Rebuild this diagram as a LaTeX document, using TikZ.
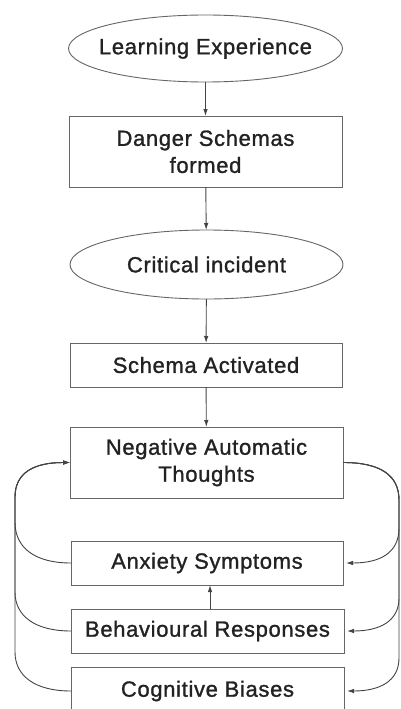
\documentclass[tikz,border=0pt]{standalone}
\usepackage{fontspec}
\setmainfont[LetterSpace=3,FakeBold=1.2]{Liberation Sans}
\usetikzlibrary{shapes.geometric,arrows.meta}
\definecolor{inkline}{HTML}{444444}
\definecolor{boxline}{HTML}{666666}
\definecolor{inktext}{HTML}{222222}
\begin{document}
\begin{tikzpicture}[x=1pt,y=-1pt,
  every node/.style={text=inktext,font=\fontsize{22}{27}\selectfont,align=center,inner sep=0pt,outer sep=0pt},
  oval/.style={ellipse,draw=boxline,line width=0.9pt,minimum width=274pt,minimum height=67pt},
  stepbox/.style={rectangle,draw=boxline,line width=0.9pt,minimum width=273pt},
  flow/.style={draw=inkline,line width=0.9pt,-{Latex[length=7pt,width=4.5pt]}},
  fb/.style={draw=inkline,line width=0.9pt,-{Latex[length=7pt,width=4.5pt]}}
]
\clip (0,0) rectangle (401,709);
\fill[white] (0,0) rectangle (401,709);

% main chain (oval captions sit in centred labels so the outline keeps its set size)
\node[oval,label={center:Learning Experience}] (le) at (205.5,48.5) {};
\node[stepbox,minimum height=71pt] (ds) at (205.5,151.5) {Danger Schemas\\formed};
\node[oval,minimum height=69pt,minimum width=273pt,label={center:Critical incident}] (ci) at (206.5,264.5) {};
\node[stepbox,minimum height=44pt,minimum width=272pt] (sa) at (206,365) {Schema Activated};
\node[stepbox,minimum height=71pt] (nat) at (206.5,462.5) {Negative Automatic\\Thoughts};
\node[stepbox,minimum height=44pt,minimum width=272pt] (as) at (207,563) {Anxiety Symptoms};
\node[stepbox,minimum height=44pt] (br) at (207.5,631) {Behavioural Responses};
\node[stepbox,minimum height=48pt] (cb) at (207.5,691) {Cognitive Biases};

\draw[flow] (le) -- (ds);
\draw[flow] (ds) -- (ci);
\draw[flow] (ci) -- (sa);
\draw[flow] (sa) -- (nat);
\draw[flow] (br.north) ++(2.5,0) coordinate (brup) -- (brup |- as.south);

% feedback to the thoughts (left)
\draw[fb] (as.west) .. controls (35,563) and (15,548) .. (15,522) -- (15,497)
  .. controls (15,472) and (35,462.5) .. (nat.west);
\draw[fb] (br.west) .. controls (35,631) and (15,616) .. (15,592) -- (15,497)
  .. controls (15,472) and (35,462.5) .. (nat.west);
\draw[fb] (cb.west) .. controls (35,691) and (15,676) .. (15,652) -- (15,497)
  .. controls (15,472) and (35,462.5) .. (nat.west);

% thoughts feeding the consequences (right)
\draw[fb,shorten >=3pt] (nat.east) .. controls (380,462.5) and (399,475) .. (399,500) -- (399,528)
  .. controls (399,553) and (380,563) .. (as.east);
\draw[fb,shorten >=3pt] (nat.east) .. controls (380,462.5) and (399,475) .. (399,500) -- (399,598)
  .. controls (399,621) and (380,631) .. (br.east);
\draw[fb,shorten >=3pt] (nat.east) .. controls (380,462.5) and (399,475) .. (399,500) -- (399,658)
  .. controls (399,681) and (380,691) .. (cb.east);
\end{tikzpicture}
\end{document}
